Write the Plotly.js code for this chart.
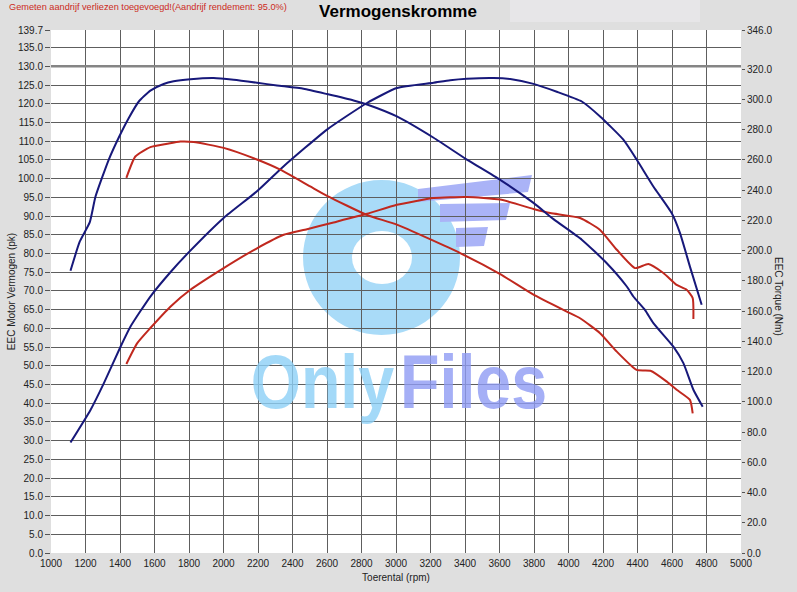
<!DOCTYPE html>
<html>
<head>
<meta charset="utf-8">
<script src="https://cdn.plot.ly/plotly-3.0.1.min.js"></script>
<style>
html,body{margin:0;padding:0;background:#dfdfdf;}
#chart{width:797px;height:592px;}
</style>
</head>
<body>
<div id="chart"></div>
<script>
// ---- data ----
// Tuned (blue) torque, Nm on right axis
const tunedTorqueRpm = [1113,1167,1225,1258,1335,1393,1451,1509,1576,1653,1711,1808,1943,2059,2194,2310,2464,2600,2754,2832,3005,3218,3411,3604,3797,3913,4077,4222,4338,4376,4444,4492,4608,4666,4724,4778];
const tunedTorqueNm = [186.7,206.1,218.9,235.8,260.3,274.9,287.8,298.7,305.9,310.3,312.1,313.5,314.3,313.1,311.1,309.3,307.1,303.6,299.4,296.7,288.8,274.7,260.3,246.9,231.6,220.9,207.3,191.7,176.3,169.7,160.7,152.1,136.5,125.6,108.0,96.8];

// Tuned (blue) power, pk on left axis
const tunedPowerRpm = [1113,1229,1306,1403,1461,1576,1692,1798,2001,2194,2349,2600,2832,3005,3218,3314,3411,3565,3662,3797,3932,4077,4183,4318,4395,4492,4598,4646,4704,4772];
const tunedPowerPk = [29.5,38.2,45.3,55.1,60.5,68.5,75.0,80.3,89.5,96.6,103.3,113.1,120.2,124.2,125.6,126.3,126.7,126.9,126.6,125.3,123.2,120.6,116.6,110.4,105.1,97.9,90.8,85.5,76.5,66.3];

// Stock (red) torque, Nm on right axis
const stockTorqueRpm = [1437,1489,1576,1673,1750,1827,2001,2194,2329,2503,2600,2832,3005,3372,3604,3797,3990,4067,4183,4280,4395,4475,4570,4627,4704,4720];
const stockTorqueNm = [248.2,262.3,268.5,270.7,272.2,271.9,268.0,260.3,253.6,242.5,236.3,223.6,217.2,198.4,184.5,170.9,159.7,155.3,145.4,133.2,121.1,120.6,113.4,108.0,101.3,92.4];

// Stock (red) power, pk on left axis
const stockPowerRpm = [1437,1499,1576,1692,1808,2001,2194,2349,2484,2638,2832,3005,3218,3411,3604,3797,3894,4067,4183,4280,4386,4463,4550,4627,4685,4720,4724];
const stockPowerPk = [50.5,56.0,60.1,65.8,70.3,76.1,81.4,85.0,86.5,88.3,90.6,93.0,94.8,95.1,94.4,91.9,90.8,89.5,86.3,81.0,76.1,77.2,74.8,71.6,70.3,68.1,62.5];

// Tick values
const xTickVals = [1000,1200,1400,1600,1800,2000,2200,2400,2600,2800,3000,3200,3400,3600,3800,4000,4200,4400,4600,4800,5000];
const yTickVals = [0,5,10,15,20,25,30,35,40,45,50,55,60,65,70,75,80,85,90,95,100,105,110,115,120,125,130,135,139.7];
const y2TickVals = [0,20,40,60,80,100,120,140,160,180,200,220,240,260,280,300,320,346];

// Texts
const chartTitle = 'Vermogenskromme';
const noteText = 'Gemeten aandrijf verliezen toegevoegd!(Aandrijf rendement: 95.0%)';
const xTitle = 'Toerental (rpm)';
const yTitle = 'EEC Motor Vermogen (pk)';
const y2Title = 'EEC Torque (Nm)';

// ---- styling ----
const BLUE = '#17187a';
const RED = '#c0281e';
const GRID = '#5e5e5e';
const FONT = 'Liberation Sans, Arial, sans-serif';

const xRange = [1000, 5000];
const yRange = [0, 139.7];
const y2Range = [0, 346];

// interior ticks carry the grid; the range ends are labelled by overlay axes without grid
const xInner = xTickVals.filter(v => v > xRange[0] && v < xRange[1]);
const xEdge = xTickVals.filter(v => v <= xRange[0] || v >= xRange[1]);
const yInner = yTickVals.filter(v => v > yRange[0] && v < yRange[1]);
const yEdge = yTickVals.filter(v => v <= yRange[0] || v >= yRange[1]);

// pixel -> paper helpers for decorative items (plot area 51..741 x 30..553)
const L = 51, R = 56, T = 30, B = 39, W = 797, H = 592;
const PW = W - L - R, PH = H - T - B;
const px = v => (v - L) / PW;
const py = v => (H - B - v) / PH;

function line(x, y, color, axis) {
  return {type:'scatter', mode:'lines', x:x, y:y, yaxis:axis,
          line:{color:color, width:2, shape:'spline', smoothing:0.5},
          hoverinfo:'skip'};
}

const traces = [
  line(stockPowerRpm, stockPowerPk, RED, 'y'),
  line(stockTorqueRpm, stockTorqueNm, RED, 'y2'),
  line(tunedPowerRpm, tunedPowerPk, BLUE, 'y'),
  line(tunedTorqueRpm, tunedTorqueNm, BLUE, 'y2'),
  // empty carriers so the edge-label axes are drawn
  {type:'scatter', mode:'lines', x:[], y:[], xaxis:'x2', yaxis:'y', hoverinfo:'skip'},
  {type:'scatter', mode:'lines', x:[], y:[], xaxis:'x', yaxis:'y3', hoverinfo:'skip'}
];

function wing(pts, color) {
  let d = 'M ' + pts.map(p => px(p[0]) + ',' + py(p[1])).join(' L ') + ' Z';
  return {type:'path', xref:'paper', yref:'paper', path:d, fillcolor:color,
          line:{width:0}, layer:'below'};
}

const tickFont = {family:FONT, size:10, color:'#222'};

const layout = {
  width: W, height: H,
  paper_bgcolor: '#dfdfdf',
  plot_bgcolor: '#ffffff',
  margin: {l:L, r:R, t:T, b:B, pad:0},
  showlegend: false,
  font: {family: FONT, size: 10, color: '#222'},
  title: {text: '<b>' + chartTitle + '</b>', font:{family:FONT, size:17, color:'#000'},
          x: 398/W, xanchor:'center', y: 1 - 11/H, yanchor:'middle'},
  xaxis: {range:xRange, tickvals:xInner, showgrid:true, gridcolor:GRID, gridwidth:1,
          zeroline:false, showline:false, ticks:'', tickfont:tickFont, ticklabelstandoff:3,
          title:{text:xTitle, font:{size:10, color:'#222'}, standoff:5}},
  xaxis2: {range:xRange, tickvals:xEdge, overlaying:'x', anchor:'y', side:'bottom',
           showgrid:false, zeroline:false, showline:false, ticks:'', tickfont:tickFont,
           ticklabelstandoff:3},
  yaxis: {range:yRange, tickvals:yInner, tickformat:'.1f', showgrid:true, gridcolor:GRID,
          gridwidth:1, zeroline:false, showline:false, ticks:'outside', ticklen:5, tickcolor:'#555',
          tickfont:tickFont,
          title:{text:yTitle, font:{size:10, color:'#222'}, standoff:0}},
  yaxis3: {range:yRange, tickvals:yEdge, tickformat:'.1f', overlaying:'y', anchor:'x', side:'left',
           showgrid:false, zeroline:false, showline:false, ticks:'outside', ticklen:5, tickcolor:'#555',
           tickfont:tickFont},
  yaxis2: {range:y2Range, tickvals:y2TickVals, tickformat:'.1f', overlaying:'y', side:'right',
           showgrid:false, zeroline:false, showline:false, ticks:'outside', ticklen:3,
           tickcolor:'#555', tickfont:tickFont},
  shapes: [
    // light box next to title
    {type:'rect', xref:'paper', yref:'paper', x0:px(510), x1:px(700), y0:py(22), y1:py(0),
     fillcolor:'#e7e6e8', line:{width:0}, layer:'below'},
    // watermark "O"
    {type:'circle', xref:'paper', yref:'paper', x0:px(303), x1:px(460), y0:py(335), y1:py(180),
     fillcolor:'#a9dbf8', line:{width:0}, layer:'below'},
    {type:'circle', xref:'paper', yref:'paper', x0:px(352), x1:px(412), y0:py(284), y1:py(231),
     fillcolor:'#ffffff', line:{width:0}, layer:'below'},
    // wings
    wing([[418,189],[532,175],[528,192],[418,202]], '#aab3f7'),
    wing([[440,204],[510,203],[506,220],[440,222]], '#aab3f7'),
    wing([[456,228],[488,227],[484,246],[456,247]], '#aab3f7'),
    // thick 130 line
    {type:'line', xref:'paper', yref:'y', x0:0, x1:1, y0:130, y1:130,
     line:{color:'#858585', width:2.5}, layer:'above'}
  ],
  annotations: [
    {text: noteText, xref:'paper', yref:'paper', x:px(7), y:py(7), xanchor:'left', yanchor:'middle',
     showarrow:false, font:{family:FONT, size:9.2, color:'#cc2a22'}},
    {text: y2Title, xref:'paper', yref:'paper', x:px(778), y:py(296), xanchor:'center', yanchor:'middle',
     textangle:90, showarrow:false, font:{family:FONT, size:10, color:'#222'}},
    {text: '<b>Only</b>', xref:'paper', yref:'paper', x:px(322), y:py(381), xanchor:'center', yanchor:'middle',
     showarrow:false, font:{family:FONT, size:76, color:'rgba(140,207,246,0.8)'}},
    {text: '<b>Files</b>', xref:'paper', yref:'paper', x:px(473), y:py(381), xanchor:'center', yanchor:'middle',
     showarrow:false, font:{family:FONT, size:76, color:'rgba(142,155,244,0.8)'}}
  ]
};

Plotly.newPlot('chart', traces, layout, {displayModeBar:false, staticPlot:true}).then(gd => {
  // condense the heavy watermark lettering horizontally
  gd.querySelectorAll('.annotation').forEach(g => {
    const idx = g.getAttribute('data-index');
    if (idx === '2' || idx === '3') {
      const t = g.querySelector('text');
      if (!t) return;
      const bb = t.getBBox();
      const cx = bb.x + bb.width / 2;
      t.setAttribute('transform', 'translate(' + cx + ',0) scale(0.85,1) translate(' + (-cx) + ',0)');
    }
  });
});
</script>
</body>
</html>
